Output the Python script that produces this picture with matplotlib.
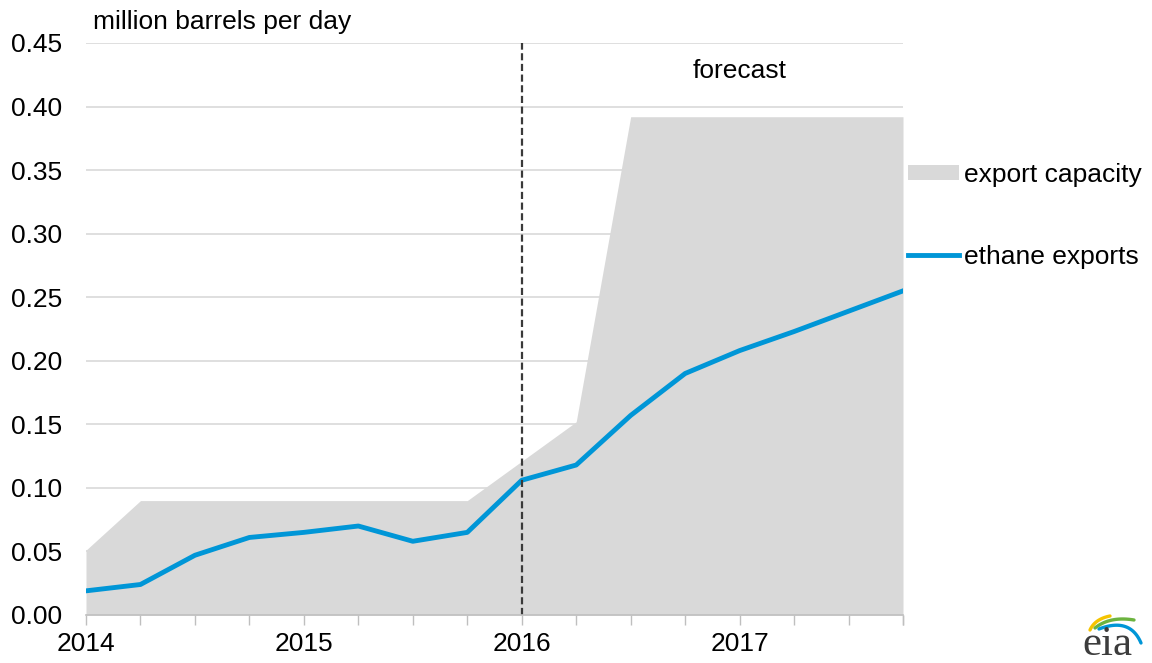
import matplotlib
matplotlib.use('Agg')
import matplotlib.pyplot as plt
from matplotlib.patches import Patch
from matplotlib.lines import Line2D
import numpy as np

plt.rcParams['font.family'] = ['Liberation Sans', 'DejaVu Sans']

# quarterly, 2014Q1 .. 2017Q4
quarters = np.arange(2014, 2018, 0.25)
export_capacity = [0.051, 0.090, 0.090, 0.090, 0.090, 0.090, 0.090, 0.090,
                   0.121, 0.152, 0.392, 0.392, 0.392, 0.392, 0.392, 0.392]
ethane_exports = [0.019, 0.024, 0.047, 0.061, 0.065, 0.070, 0.058, 0.065,
                  0.106, 0.118, 0.157, 0.190, 0.208, 0.223, 0.239, 0.255]
year_ticks = [2014, 2015, 2016, 2017]
forecast_start = 2016

fig = plt.figure(figsize=(11.52, 6.63), dpi=100)
ax = fig.add_axes([86 / 1152, 1 - 615 / 663, (903 - 86) / 1152, (615 - 43) / 663])

fs = 19
grey_fill = '#d9d9d9'
blue = '#0096d7'

ax.fill_between(quarters, 0, export_capacity, color=grey_fill, lw=0, zorder=2)
ax.plot(quarters, ethane_exports, color=blue, lw=3.5, solid_joinstyle='round', zorder=4)
ax.axvline(forecast_start, color='#3a3a3a', lw=1.6, ls=(0, (3.2, 1.6)), zorder=5)

ax.set_xlim(quarters[0], quarters[-1])
ax.set_ylim(0, 0.45)
ax.set_yticks(np.arange(0, 0.451, 0.05))
ax.set_yticklabels(['%.2f' % v for v in np.arange(0, 0.451, 0.05)], fontsize=fs)
ax.grid(axis='y', color='#d9d9d9', lw=1.2, zorder=0)
ax.set_axisbelow(True)

ax.set_xticks(year_ticks)
ax.set_xticklabels([str(y) for y in year_ticks], fontsize=fs)
ax.set_xticks(quarters.tolist() + [quarters[-1]], minor=True)
ax.tick_params(axis='x', which='both', length=7, width=1, color='#bfbfbf', pad=5)
ax.tick_params(axis='y', length=0, pad=17)

for s in ['top', 'right', 'left']:
    ax.spines[s].set_visible(False)
ax.spines['bottom'].set_color('#bfbfbf')
ax.spines['bottom'].set_linewidth(1.2)
ax.spines['bottom'].set_zorder(6)

fig.text(93 / 1152, 1 - 22 / 663, 'million barrels per day', fontsize=fs,
         ha='left', va='center')
ax.text(2017.0, 0.428, 'forecast', fontsize=fs, ha='center', va='center')

handles = [Patch(facecolor=grey_fill, edgecolor='none'),
           Line2D([0], [0], color=blue, lw=3.5)]
fig.legend(handles, ['export capacity', 'ethane exports'], loc='upper left',
           bbox_to_anchor=(897 / 1152, 1 - 152 / 663), frameon=False,
           fontsize=fs, handlelength=1.95, handleheight=0.5,
           handletextpad=0.2, labelspacing=2.2, borderaxespad=0)

# eia logo (pixel coordinates of the figure)
lax = fig.add_axes([1075 / 1152, 0, 77 / 1152, 53 / 663])
lax.set_xlim(1075, 1152)
lax.set_ylim(663, 610)
lax.axis('off')
lax.text(1107, 645, 'eia', fontsize=31, family='Liberation Serif',
         color='#3c3c3c', ha='center', va='center')


def swoosh(p0, p1, p2, color, lw):
    t = np.linspace(0, 1, 40)[:, None]
    pts = (1 - t) ** 2 * np.array(p0) + 2 * (1 - t) * t * np.array(p1) + t ** 2 * np.array(p2)
    lax.plot(pts[:, 0], pts[:, 1], color=color, lw=lw, solid_capstyle='round')


swoosh((1090, 630), (1095, 619), (1110, 616), '#f5c400', 2.4)
swoosh((1095, 628), (1110, 616), (1134, 620), '#6cb33f', 2.4)
swoosh((1099, 629), (1130, 617), (1141, 643), '#0096d7', 2.4)

fig.savefig('out.png', dpi=100)
